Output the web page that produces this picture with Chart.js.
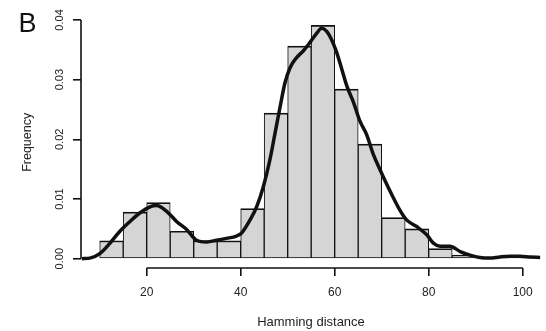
<!DOCTYPE html>
<html>
<head>
<meta charset="utf-8">
<script src="https://cdn.jsdelivr.net/npm/chart.js@4/dist/chart.umd.min.js"></script>
<style>
  html, body { margin: 0; padding: 0; background: #fff; }
  #wrap { width: 546px; height: 331px; position: relative; }
</style>
</head>
<body>
<div id="wrap"><canvas id="c"></canvas></div>
<script>
// ---- data ----
const panelLabel = 'B';
const xTitle = 'Hamming distance';
const yTitle = 'Frequency';

// histogram bins (centres of 5-wide bins, 10..105)
const binCenters = [12.5, 17.5, 22.5, 27.5, 32.5, 37.5, 42.5, 47.5, 52.5, 57.5,
                    62.5, 67.5, 72.5, 77.5, 82.5, 87.5, 92.5, 97.5, 102.5];
const binFreq = [0.0030, 0.0078, 0.0094, 0.0046, 0.0030, 0.0030, 0.0084, 0.0244, 0.0356, 0.0391,
                 0.0284, 0.0192, 0.0069, 0.0050, 0.0017, 0.0006, 0.0002, 0.0002, 0.0002];

// density curve
const kdeX = [6.2, 7.9, 10.1, 12.2, 14.3, 16.4, 18.6, 20.7, 22.1, 24.3, 26.4, 28.5, 30.6, 32.8,
              34.9, 37.0, 39.1, 40.2, 42.0, 43.4, 44.8, 46.2, 47.3, 48.4, 49.4, 50.5, 51.9, 53.3,
              54.7, 56.2, 57.2, 58.3, 59.4, 60.4, 61.5, 62.6, 64.0, 65.4, 66.8, 68.2, 69.6, 71.8,
              73.9, 75.3, 77.4, 79.6, 81.0, 82.4, 84.5, 86.7, 88.8, 90.9, 93.0, 95.2, 97.3, 99.4,
              101.5, 103.7];
const kdeY = [0.0000, 0.0001, 0.0009, 0.0026, 0.0046, 0.0062, 0.0077, 0.0087, 0.0089, 0.0079,
              0.0062, 0.0049, 0.0031, 0.0028, 0.0031, 0.0034, 0.0038, 0.0043, 0.0065, 0.0087,
              0.0120, 0.0165, 0.0210, 0.0255, 0.0294, 0.0320, 0.0337, 0.0348, 0.0362, 0.0378,
              0.0386, 0.0381, 0.0366, 0.0346, 0.0318, 0.0289, 0.0262, 0.0230, 0.0208, 0.0175,
              0.0150, 0.0113, 0.0081, 0.0065, 0.0054, 0.0040, 0.0026, 0.0021, 0.0021, 0.0012,
              0.0006, 0.0002, 0.0001, 0.0003, 0.0004, 0.0004, 0.0003, 0.0002];

const xTicks = [20, 40, 60, 80, 100];
const yTicks = [0.00, 0.01, 0.02, 0.03, 0.04];

// ---- chart ----
const FONT = '"Liberation Sans", Arial, Helvetica, sans-serif';
const INK = '#111';

const axisLines = {
  id: 'axisLines',
  afterDraw(chart) {
    const { ctx, scales: { x, y } } = chart;
    ctx.save();
    ctx.strokeStyle = INK;
    ctx.lineWidth = 1.6;
    ctx.beginPath();
    ctx.moveTo(x.getPixelForValue(xTicks[0]), x.top);
    ctx.lineTo(x.getPixelForValue(xTicks[xTicks.length - 1]), x.top);
    ctx.moveTo(y.right, y.getPixelForValue(yTicks[0]));
    ctx.lineTo(y.right, y.getPixelForValue(yTicks[yTicks.length - 1]));
    ctx.stroke();
    ctx.fillStyle = INK;
    ctx.font = '27px ' + FONT;
    ctx.textBaseline = 'alphabetic';
    ctx.textAlign = 'left';
    ctx.fillText(panelLabel, 18.5, 31.5);
    ctx.restore();
  }
};

new Chart(document.getElementById('c'), {
  type: 'bar',
  data: {
    datasets: [
      {
        type: 'line',
        data: kdeX.map((v, i) => ({ x: v, y: kdeY[i] })),
        borderColor: INK,
        borderWidth: 3.5,
        pointRadius: 0,
        cubicInterpolationMode: 'monotone',
        fill: false,
        order: 0
      },
      {
        type: 'bar',
        data: binCenters.map((v, i) => ({ x: v, y: binFreq[i] })),
        backgroundColor: '#d5d5d5',
        borderColor: INK,
        borderWidth: { top: 1.7, left: 1, right: 1, bottom: 1 },
        borderSkipped: false,
        barPercentage: 1,
        categoryPercentage: 1,
        order: 1
      }
    ]
  },
  options: {
    responsive: true,
    maintainAspectRatio: false,
    animation: false,
    events: [],
    layout: { padding: { top: 16.6, right: 5, bottom: 0, left: 0 } },
    plugins: { legend: { display: false }, tooltip: { enabled: false } },
    scales: {
      x: {
        type: 'linear',
        position: 'bottom',
        offset: false,
        min: 6.02,
        max: 103.9,
        afterFit: s => { s.height = 63; },
        afterBuildTicks: s => { s.ticks = xTicks.map(v => ({ value: v })); },
        border: { display: false },
        grid: { display: true, offset: false, drawOnChartArea: false, drawTicks: true, tickLength: 8, color: INK, lineWidth: 1.6 },
        ticks: {
          color: '#222', padding: 9, maxRotation: 0, autoSkip: false,
          font: { family: FONT, size: 12 },
          callback: v => String(v)
        },
        title: { display: true, text: xTitle, color: '#222', font: { family: FONT, size: 13 }, padding: { top: 0, bottom: 1 } }
      },
      y: {
        type: 'linear',
        position: 'left',
        min: -0.00156,
        max: 0.04056,
        afterFit: s => { s.width = 81; },
        afterBuildTicks: s => { s.ticks = yTicks.map(v => ({ value: v })); },
        border: { display: false },
        grid: { display: true, drawOnChartArea: false, drawTicks: true, tickLength: 8, color: INK, lineWidth: 1.6 },
        ticks: {
          color: '#222', padding: 2, minRotation: 90, maxRotation: 90, crossAlign: 'center', autoSkip: false,
          font: { family: FONT, size: 11 },
          callback: v => Number(v).toFixed(2)
        },
        title: { display: true, text: yTitle, color: '#222', font: { family: FONT, size: 12.5 }, padding: { top: 20, bottom: 0 } }
      }
    }
  },
  plugins: [axisLines]
});
</script>
</body>
</html>
